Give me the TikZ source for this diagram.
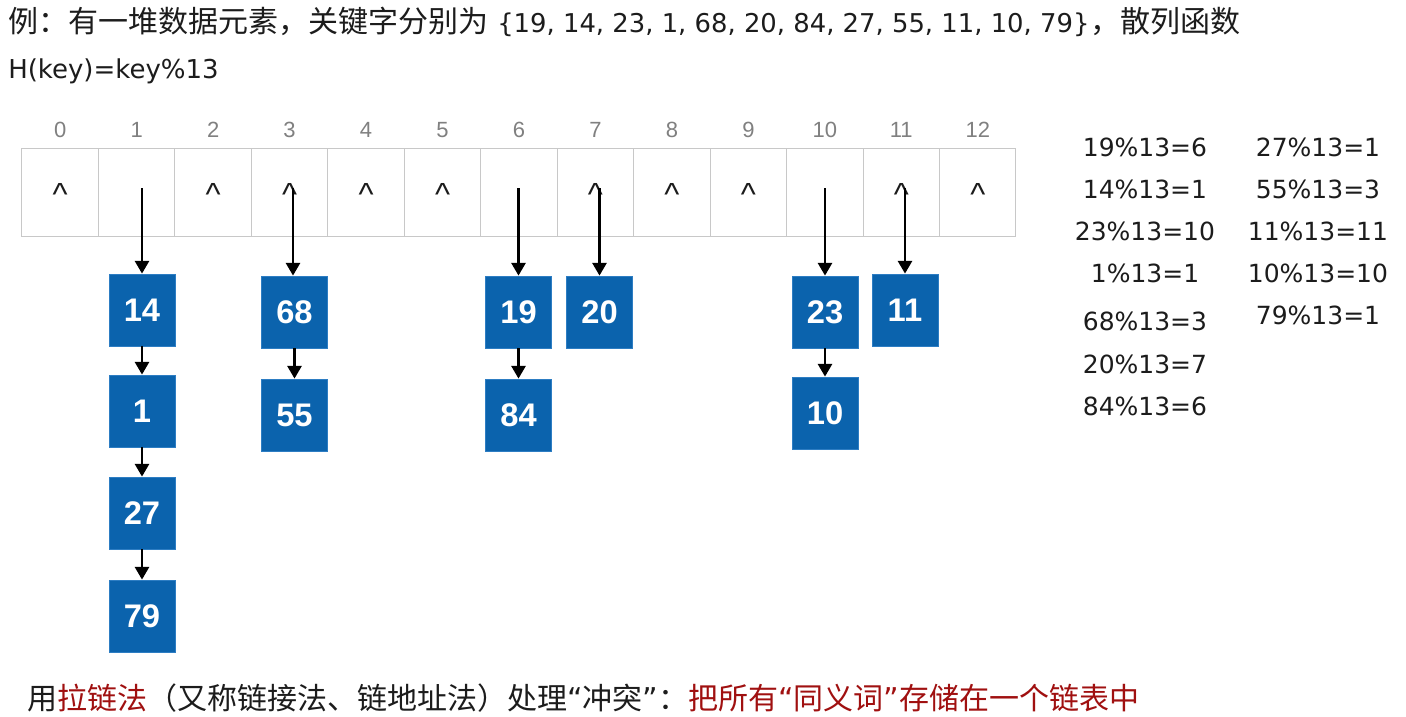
\documentclass[tikz,border=0pt]{standalone}
\usepackage{fontspec}
\setmainfont{Liberation Sans}
\newfontfamily\cjk{Noto Sans CJK SC}
\newfontfamily\dejavu{DejaVu Sans}
\usetikzlibrary{arrows.meta}
\definecolor{boxblue}{RGB}{11,99,173}
\definecolor{boxedge}{RGB}{45,125,195}
\definecolor{cellgray}{RGB}{200,200,200}
\definecolor{idxgray}{RGB}{128,128,128}
\definecolor{hred}{RGB}{160,16,16}
\definecolor{txt}{RGB}{28,28,28}
\newcommand\myLq{{\dejavu “}}
\newcommand\myRq{{\dejavu ”}}
\begin{document}
\begin{tikzpicture}[x=0.75pt,y=-0.75pt,
  cell/.style={draw=cellgray, line width=0.75pt, minimum width=57.35pt, minimum height=66pt, inner sep=0pt},
  caret/.style={inner sep=0pt, text=txt, font=\fontsize{24pt}{26pt}\selectfont},
  idx/.style={text=idxgray, inner sep=0pt, font=\fontsize{16.5pt}{18pt}\selectfont},
  kbox/.style={fill=boxblue, draw=boxedge, line width=0.6pt, minimum width=49.5pt, minimum height=54pt, inner sep=0pt, text=white, font=\fontsize{24.5pt}{26pt}\selectfont\bfseries},
  arr/.style={line width=1.9pt, -{Triangle[width=10.5pt,length=9.5pt]}, black},
  fml/.style={text=txt, inner sep=0pt, font=\dejavu\fontsize{18.75pt}{20pt}\selectfont},
  ttl/.style={anchor=base west, inner sep=0pt, text=txt}
]
\useasboundingbox (0,0) rectangle (1406,717);
\fill[white] (0,0) rectangle (1406,717);

% title
\node[ttl, font=\cjk\fontsize{22.5pt}{24pt}\selectfont] (t1) at (8,33) {例：有一堆数据元素，关键字分别为};
\node[ttl, font=\dejavu\fontsize{19.4pt}{22pt}\selectfont] (t2) at (497,33) {\{19, 14, 23, 1, 68, 20, 84, 27, 55, 11, 10, 79\}};
\node[ttl, font=\cjk\fontsize{22.5pt}{24pt}\selectfont] (t3) at (1090,33) {，散列函数};
\node[ttl, font=\dejavu\fontsize{19.5pt}{22pt}\selectfont] (t5) at (8,79) {H(key)=key\%13};

% table cells, indices and null markers
\foreach \i in {0,...,12} {
  \node[idx] (l\i) at ({22+76.46*(\i+0.5)},130) {\i};
  \node[cell] (c\i) at ({22+76.46*(\i+0.5)},192) {};
}
\foreach \i in {0,2,3,4,5,7,8,9,11,12} {
  \node[caret] (k\i) at ({22+76.46*(\i+0.5)},194) {\textasciicircum};
}

% chain boxes
\node[kbox] (b14) at (142,310) {14};
\node[kbox] (b1)  at (142,411) {1};
\node[kbox] (b27) at (142,513) {27};
\node[kbox] (b79) at (142,616) {79};
\node[kbox] (b68) at (294.5,312) {68};
\node[kbox] (b55) at (294.5,415) {55};
\node[kbox] (b19) at (518.5,312) {19};
\node[kbox] (b84) at (518.5,415) {84};
\node[kbox] (b20) at (599.5,312) {20};
\node[kbox] (b23) at (825,312) {23};
\node[kbox] (b10) at (825,413) {10};
\node[kbox] (b11) at (905,310) {11};

% pointer starts
\coordinate (s1)  at (142,188);
\coordinate (s3)  at (293,188);
\coordinate (s6)  at (518.5,188);
\coordinate (s7)  at (599.5,188);
\coordinate (s10) at (825,188);
\coordinate (s11) at (905,188);

\draw[arr] (s1) -- (b14.north);
\draw[arr] (s3) -- (s3 |- b68.north);
\draw[arr] (s6) -- (b19.north);
\draw[arr] (s7) -- (b20.north);
\draw[arr] (s10) -- (b23.north);
\draw[arr] (s11) -- (b11.north);
\draw[arr] (b14.south) -- (b1.north);
\draw[arr] (b1.south) -- (b27.north);
\draw[arr] (b27.south) -- (b79.north);
\draw[arr] (b68.south) -- (b55.north);
\draw[arr] (b19.south) -- (b84.north);
\draw[arr] (b23.south) -- (b10.north);

% formulas
\node[fml] (f1) at (1145,147) {19\%13=6};
\node[fml] (f2) at (1145,189) {14\%13=1};
\node[fml] (f3) at (1145,231) {23\%13=10};
\node[fml] (f4) at (1145,273) {1\%13=1};
\node[fml] (f5) at (1145,321) {68\%13=3};
\node[fml] (f6) at (1145,364) {20\%13=7};
\node[fml] (f7) at (1145,406) {84\%13=6};
\node[fml] (g1) at (1318,147) {27\%13=1};
\node[fml] (g2) at (1318,189) {55\%13=3};
\node[fml] (g3) at (1318,231) {11\%13=11};
\node[fml] (g4) at (1318,273) {10\%13=10};
\node[fml] (g5) at (1318,315) {79\%13=1};

% bottom line
\node[ttl, font=\cjk\fontsize{22.5pt}{24pt}\selectfont] (bl) at (27,709) {用\textcolor{hred}{拉链法}（又称链接法、链地址法）处理\myLq 冲突\myRq ：\textcolor{hred}{把所有\myLq 同义词\myRq 存储在一个链表中}};
\end{tikzpicture}
\end{document}
